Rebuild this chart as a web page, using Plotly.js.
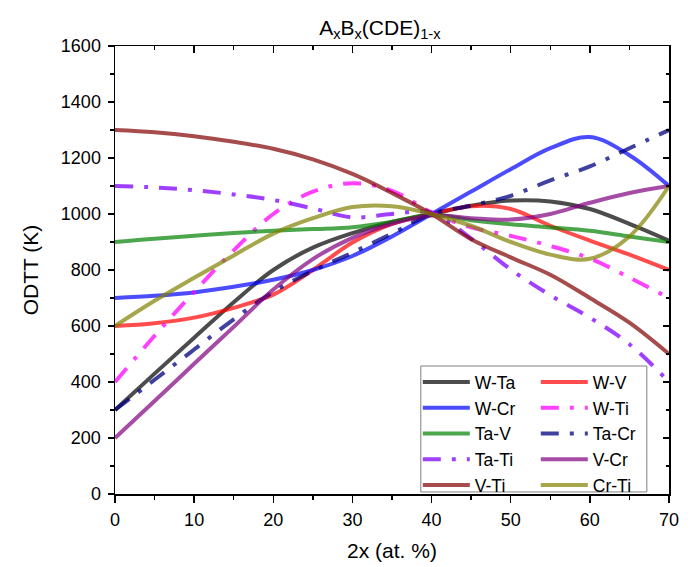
<!DOCTYPE html>
<html>
<head>
<meta charset="utf-8">
<script src="https://cdn.plot.ly/plotly-3.0.1.min.js"></script>
<style>
  html, body { margin: 0; padding: 0; background: #fff; }
  #chart { width: 697px; height: 567px; }
</style>
</head>
<body>
<div id="chart"></div>
<script>
// Composition 2x (at. %)
const xValues = [0, 5, 10, 15, 20, 25, 30, 35, 40, 45, 50, 55, 60, 65, 70];

// ODTT (K) for each element pair
const wTa  = [300, 430, 558, 685, 800, 880, 932, 972, 1000, 1030, 1048, 1045, 1018, 965, 905];
const wV   = [600, 610, 630, 665, 712, 800, 898, 965, 1000, 1028, 1018, 958, 905, 855, 800];
const wCr  = [700, 708, 720, 740, 765, 800, 850, 920, 1000, 1080, 1160, 1235, 1275, 1210, 1100];
const wTi  = [400, 565, 722, 870, 1000, 1080, 1110, 1083, 1006, 952, 922, 886, 841, 773, 700];
const taV  = [900, 912, 922, 932, 940, 946, 953, 972, 997, 978, 963, 952, 940, 920, 900];
const taCr = [300, 408, 516, 624, 722, 797, 862, 930, 1000, 1030, 1065, 1120, 1170, 1235, 1300];
const taTi = [1100, 1095, 1085, 1070, 1050, 1020, 988, 1000, 1005, 912, 802, 710, 630, 535, 400];
const vCr  = [200, 332, 465, 597, 730, 839, 915, 965, 995, 985, 980, 1000, 1040, 1075, 1100];
const vTi  = [1300, 1292, 1278, 1258, 1233, 1195, 1143, 1075, 1000, 910, 845, 783, 700, 612, 500];
const crTi = [600, 690, 772, 852, 930, 985, 1025, 1028, 1000, 958, 900, 855, 840, 920, 1100];

const seriesNames = ['W-Ta', 'W-V', 'W-Cr', 'W-Ti', 'Ta-V', 'Ta-Cr', 'Ta-Ti', 'V-Cr', 'V-Ti', 'Cr-Ti'];
const seriesValues = [wTa, wV, wCr, wTi, taV, taCr, taTi, vCr, vTi, crTi];

const colors = [
  'rgba(0,0,0,0.7)', 'rgba(255,0,0,0.7)', 'rgba(0,0,255,0.7)', 'rgba(255,0,255,0.75)',
  'rgba(0,128,0,0.7)', 'rgba(0,0,128,0.75)', 'rgba(128,0,255,0.75)', 'rgba(128,0,128,0.7)',
  'rgba(128,0,0,0.7)', 'rgba(128,128,0,0.7)'
];
const dashDot = '18px,11px,4px,11px';
const dashes = ['solid', 'solid', 'solid', dashDot, 'solid', dashDot, dashDot, 'solid', 'solid', 'solid'];

// Left legend column holds the even entries, right column the odd ones
const traces = seriesNames.map((name, i) => ({
  type: 'scatter',
  mode: 'lines',
  name: name,
  x: xValues,
  y: seriesValues[i],
  line: { color: colors[i], width: 4, dash: dashes[i], shape: 'spline', smoothing: 1 },
  legend: i % 2 === 0 ? 'legend' : 'legend2'
}));

// Empty trace that brings up the top/right frame axes with inward ticks
traces.push({
  type: 'scatter', mode: 'lines', x: [], y: [],
  xaxis: 'x2', yaxis: 'y2', showlegend: false, hoverinfo: 'skip'
});

const font = 'Arial, "Liberation Sans", sans-serif';
const axisCommon = {
  showgrid: false, zeroline: false, showline: true,
  linecolor: '#000', linewidth: 1.5,
  tickcolor: '#000', tickwidth: 1.5,
  tickfont: { family: font, size: 18, color: '#000' }
};

const legendCommon = {
  bgcolor: 'rgba(0,0,0,0)', borderwidth: 0,
  xanchor: 'left', yanchor: 'top',
  itemwidth: 47,
  font: { family: font, size: 17.5, color: '#000' },
  tracegroupgap: 0
};

const layout = {
  width: 697, height: 567,
  margin: { l: 115, r: 28, t: 46, b: 73 },
  paper_bgcolor: '#fff', plot_bgcolor: '#fff',
  font: { family: font, color: '#000' },
  title: {
    text: 'A<sub>x</sub>B<sub>x</sub>(CDE)<sub>1-x</sub>',
    font: { family: font, size: 21, color: '#000' },
    x: 0.545, xanchor: 'center', y: 0.952, yanchor: 'middle'
  },
  xaxis: Object.assign({}, axisCommon, {
    range: [0, 70], dtick: 10, tick0: 0,
    ticks: 'outside', ticklen: 7, ticklabelstandoff: 2,
    minor: { dtick: 5, ticks: 'outside', ticklen: 4, tickwidth: 1.5, tickcolor: '#000', showgrid: false },
    title: { text: '2x (at. %)', font: { family: font, size: 21, color: '#000' }, standoff: 14 }
  }),
  yaxis: Object.assign({}, axisCommon, {
    range: [0, 1600], dtick: 200, tick0: 0,
    ticks: 'outside', ticklen: 6, ticklabelstandoff: 3,
    minor: { dtick: 100, ticks: 'outside', ticklen: 3.5, tickwidth: 1.5, tickcolor: '#000', showgrid: false },
    title: { text: 'ODTT (K)', font: { family: font, size: 21, color: '#000' }, standoff: 16 }
  }),
  xaxis2: Object.assign({}, axisCommon, {
    overlaying: 'x', side: 'top', anchor: 'y2', range: [0, 70], dtick: 10,
    ticks: 'inside', ticklen: 7, showticklabels: false,
    minor: { dtick: 5, ticks: 'inside', ticklen: 4, tickwidth: 1.5, tickcolor: '#000', showgrid: false }
  }),
  yaxis2: Object.assign({}, axisCommon, {
    overlaying: 'y', side: 'right', anchor: 'x2', range: [0, 1600], dtick: 200,
    ticks: 'inside', ticklen: 6, showticklabels: false,
    minor: { dtick: 100, ticks: 'inside', ticklen: 3.5, tickwidth: 1.5, tickcolor: '#000', showgrid: false }
  }),
  legend: Object.assign({}, legendCommon, { x: 0.5466, y: 0.29 }),
  legend2: Object.assign({}, legendCommon, { x: 0.7596, y: 0.29 }),
  shapes: [{
    type: 'rect', xref: 'paper', yref: 'paper',
    x0: 0.552, x1: 0.960, y0: 0.0045, y1: 0.2857,
    line: { color: '#808080', width: 1 }, fillcolor: 'rgba(0,0,0,0)', layer: 'above'
  }],
  showlegend: true
};

Plotly.newPlot('chart', traces, layout, { displayModeBar: false, staticPlot: true });
</script>
</body>
</html>
